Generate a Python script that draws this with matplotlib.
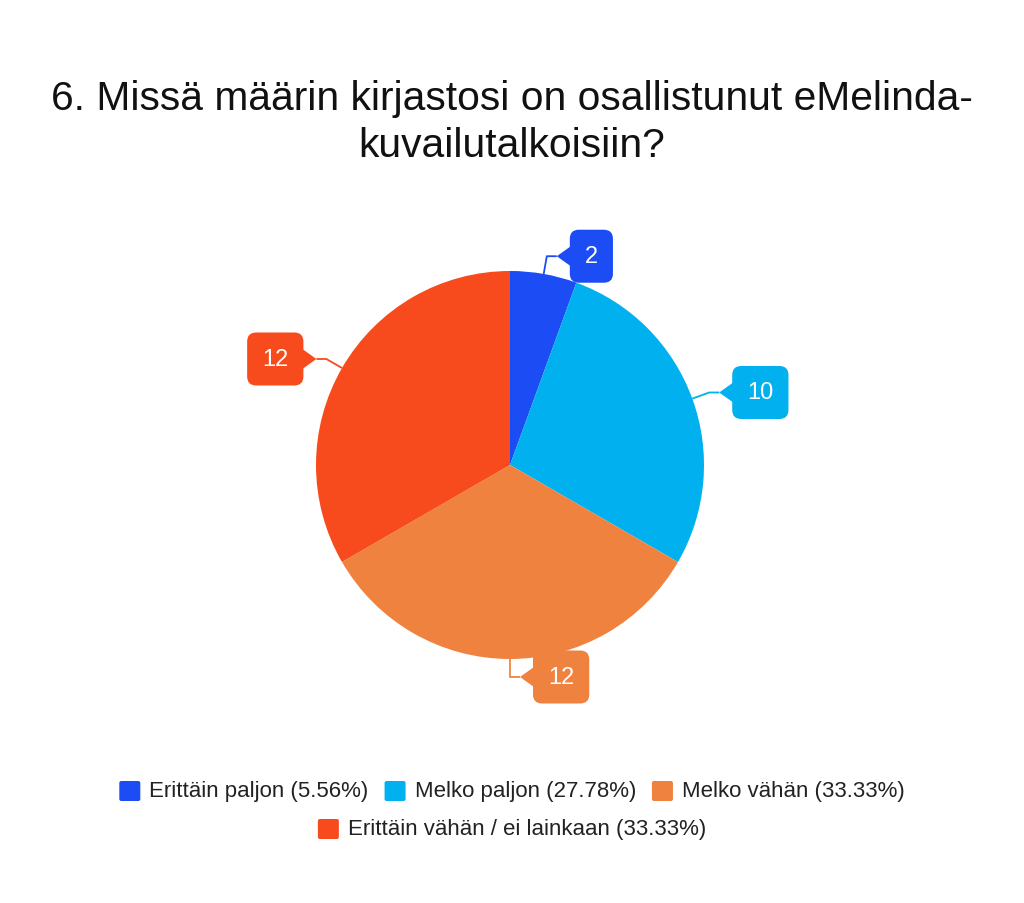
import matplotlib
matplotlib.use("Agg")
import matplotlib.pyplot as plt
from matplotlib.patches import FancyBboxPatch, Polygon
import numpy as np

title_lines = ["6. Missä määrin kirjastosi on osallistunut eMelinda-", "kuvailutalkoisiin?"]
categories = ["Erittäin paljon", "Melko paljon", "Melko vähän", "Erittäin vähän / ei lainkaan"]
values = [2, 10, 12, 12]
percents = ["5.56%", "27.78%", "33.33%", "33.33%"]
colors = ["#1b4cf4", "#00b0ef", "#f0823f", "#f84b1d"]

plt.rcParams['font.family'] = ['Liberation Sans', 'DejaVu Sans']

W, H = 1024, 904
fig = plt.figure(figsize=(W / 100, H / 100), dpi=100)
ax = fig.add_axes([0, 0, 1, 1])

cx, cy, R = 510, H - 466, 194
wedges, _ = ax.pie(values, colors=colors, startangle=90, counterclock=False,
                   center=(cx, cy), radius=R, frame=True,
                   wedgeprops=dict(linewidth=0))
ax.set_xlim(0, W)
ax.set_ylim(0, H)
ax.set_aspect('auto')
ax.axis('off')

for line, base in zip(title_lines, [110, 157]):
    fig.text(0.5, 1 - base / H, line, ha='center', va='baseline', fontsize=29.3,
             color='#111111')

fig.canvas.draw()
renderer = fig.canvas.get_renderer()

# callout labels
for w, v, c in zip(wedges, values, colors):
    ang = np.deg2rad((w.theta1 + w.theta2) / 2)
    ex, ey = cx + R * np.cos(ang), cy + R * np.sin(ang)
    mx, my = cx + (R + 18) * np.cos(ang), cy + (R + 18) * np.sin(ang)
    side = 1 if np.cos(ang) >= -1e-6 else -1
    tipx = mx + side * 10
    ax.plot([ex, mx, tipx], [ey, my, my], color=c, lw=1.3, solid_capstyle='butt')
    t = ax.text(0, 0, str(v), fontsize=17, color='white', ha='center', va='center')
    bb = t.get_window_extent(renderer)
    bw = max(bb.width + 30, 37)
    bh = 53
    bx0 = tipx + side * 13 if side > 0 else tipx - 13 - bw
    box = FancyBboxPatch((bx0, my - bh / 2), bw, bh,
                         boxstyle="round,pad=0,rounding_size=9",
                         fc=c, ec='none', zorder=3)
    ax.add_patch(box)
    near = bx0 if side > 0 else bx0 + bw
    tri = Polygon([[tipx, my], [near + side * 1, my + 10], [near + side * 1, my - 10]],
                  closed=True, fc=c, ec='none', zorder=3)
    ax.add_patch(tri)
    t.set_position((bx0 + bw / 2, my))
    t.set_zorder(4)

# legend (manual, centred rows)
fs = 16
sq_w, sq_h = 21, 20
gap_sq = 9
gap_item = 16
rows = [[0, 1, 2], [3]]
row_y = [H - 792, H - 830]
for row, yy in zip(rows, row_y):
    items = []
    total = 0
    for i in row:
        lab = f"{categories[i]} ({percents[i]})"
        t = ax.text(0, yy, lab, fontsize=fs, color='#222222', ha='left', va='center')
        wdt = t.get_window_extent(renderer).width
        items.append((i, t, wdt))
        total += sq_w + gap_sq + wdt
    total += gap_item * (len(row) - 1)
    x = W / 2 - total / 2
    for i, t, wdt in items:
        ax.add_patch(FancyBboxPatch((x, yy - sq_h / 2), sq_w, sq_h,
                                    boxstyle="round,pad=0,rounding_size=2",
                                    fc=colors[i], ec='none'))
        t.set_position((x + sq_w + gap_sq, yy))
        x += sq_w + gap_sq + wdt + gap_item

fig.savefig("out.png", dpi=100, facecolor='white')
